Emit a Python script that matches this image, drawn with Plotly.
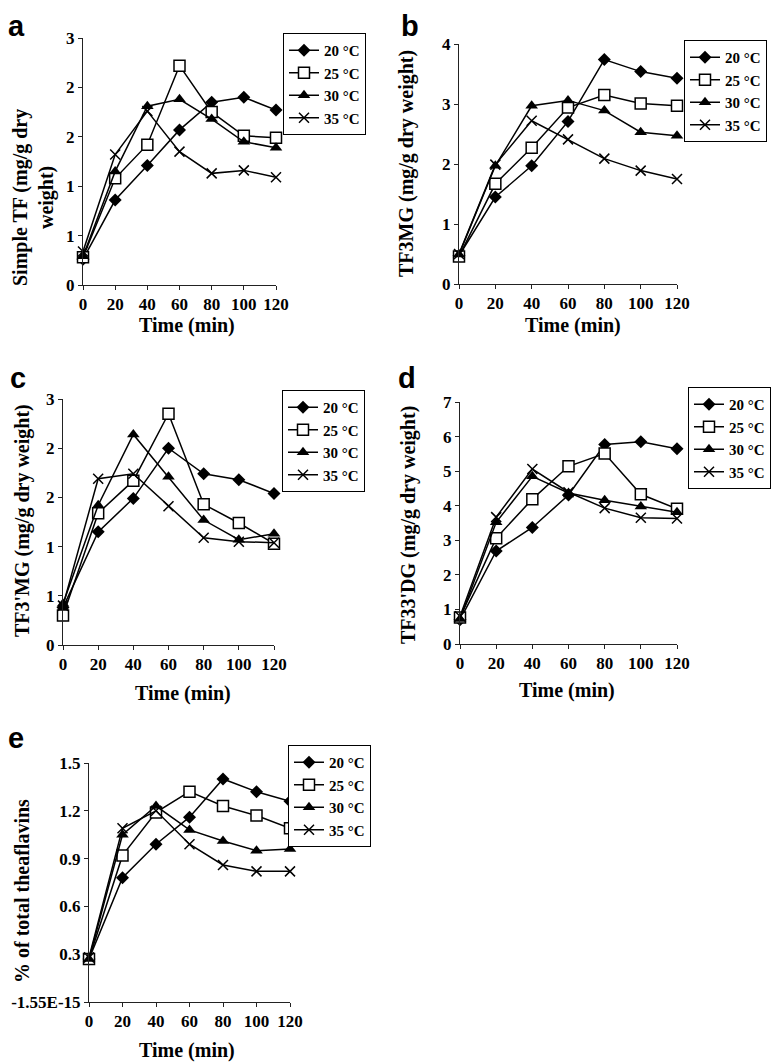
import plotly.graph_objects as go

# the page body has an 8px margin, so the figure is a bit smaller than the window
W = 774
H = 1056
OFF = 8

times = [0, 20, 40, 60, 80, 100, 120]
temps = ["20 °C", "25 °C", "30 °C", "35 °C"]

# a - simple TF
simple_tf_20 = [0.26, 0.86, 1.21, 1.57, 1.85, 1.90, 1.77]
simple_tf_25 = [0.28, 1.08, 1.42, 2.22, 1.75, 1.51, 1.49]
simple_tf_30 = [0.29, 1.15, 1.81, 1.88, 1.68, 1.45, 1.39]
simple_tf_35 = [0.34, 1.32, 1.76, 1.35, 1.13, 1.16, 1.09]

# b - TF3MG
tf3mg_20 = [0.47, 1.45, 1.97, 2.71, 3.74, 3.54, 3.43]
tf3mg_25 = [0.46, 1.67, 2.27, 2.94, 3.15, 3.01, 2.97]
tf3mg_30 = [0.49, 1.97, 2.97, 3.06, 2.89, 2.53, 2.47]
tf3mg_35 = [0.50, 1.99, 2.72, 2.41, 2.09, 1.89, 1.75]

# c - TF3'MG
tf3pmg_20 = [0.38, 1.15, 1.49, 2.00, 1.74, 1.68, 1.54]
tf3pmg_25 = [0.30, 1.34, 1.67, 2.35, 1.43, 1.24, 1.03]
tf3pmg_30 = [0.42, 1.42, 2.14, 1.71, 1.27, 1.07, 1.13]
tf3pmg_35 = [0.40, 1.69, 1.74, 1.41, 1.09, 1.05, 1.04]

# d - TF33'DG
tf33dg_20 = [0.70, 2.69, 3.37, 4.31, 5.77, 5.85, 5.65]
tf33dg_25 = [0.77, 3.06, 4.19, 5.14, 5.51, 4.33, 3.91]
tf33dg_30 = [0.72, 3.52, 4.85, 4.37, 4.16, 3.98, 3.81]
tf33dg_35 = [0.80, 3.67, 5.06, 4.39, 3.93, 3.65, 3.63]

# e - % of total theaflavins
pct_20 = [0.27, 0.78, 0.99, 1.16, 1.40, 1.32, 1.26]
pct_25 = [0.27, 0.92, 1.19, 1.32, 1.23, 1.17, 1.09]
pct_30 = [0.27, 1.05, 1.23, 1.08, 1.01, 0.95, 0.96]
pct_35 = [0.28, 1.09, 1.20, 0.99, 0.86, 0.82, 0.82]

half_ticks = [0, 0.5, 1, 1.5, 2, 2.5]
half_labels = ["0", "1", "1", "2", "2", "3"]
pct_ticks = [0, 0.3, 0.6, 0.9, 1.2, 1.5]
pct_labels = ["-1.55E-15", "0.3", "0.6", "0.9", "1.2", "1.5"]

SERIF = "Liberation Serif, Times New Roman, serif"
SANS = "Liberation Sans, Arial, sans-serif"

markers = [
    dict(symbol="diamond", size=10, color="black"),
    dict(symbol="square", size=11, color="white", line=dict(color="black", width=1.5)),
    dict(symbol="triangle-up", size=11, color="black"),
    dict(symbol="x-thin", size=10, color="black", line=dict(color="black", width=1.5)),
]


# window pixel -> paper fraction
def px_x(p):
    return (p - OFF) / W


def px_y(p):
    return 1 - (p - OFF) / H


# x domain px, y domain px (top, bottom), y range, ticks, legend top-left px
panels = [
    dict(series=[simple_tf_20, simple_tf_25, simple_tf_30, simple_tf_35],
         xd=(83, 276), yd=(38, 285), yr=[0, 2.5], tv=half_ticks, tt=half_labels,
         leg=(283, 33)),
    dict(series=[tf3mg_20, tf3mg_25, tf3mg_30, tf3mg_35],
         xd=(459, 677), yd=(44, 284), yr=[0, 4], tv=[0, 1, 2, 3, 4], tt=None,
         leg=(684, 40)),
    dict(series=[tf3pmg_20, tf3pmg_25, tf3pmg_30, tf3pmg_35],
         xd=(63, 274), yd=(399, 645), yr=[0, 2.5], tv=half_ticks, tt=half_labels,
         leg=(282, 390)),
    dict(series=[tf33dg_20, tf33dg_25, tf33dg_30, tf33dg_35],
         xd=(460, 677), yd=(402, 644), yr=[0, 7], tv=[0, 1, 2, 3, 4, 5, 6, 7], tt=None,
         leg=(688, 387)),
    dict(series=[pct_20, pct_25, pct_30, pct_35],
         xd=(89, 290), yd=(763, 1002), yr=[0, 1.5], tv=pct_ticks, tt=pct_labels,
         leg=(288, 745)),
]

fig = go.Figure()
layout = dict(
    width=W, height=H,
    margin=dict(l=0, r=0, t=0, b=0, autoexpand=False),
    paper_bgcolor="white", plot_bgcolor="white",
    font=dict(family=SERIF, color="black"),
    showlegend=True,
)

for i, p in enumerate(panels):
    n = "" if i == 0 else str(i + 1)
    leg = "legend" if i == 0 else "legend" + n
    for j, s in enumerate(p["series"]):
        fig.add_trace(go.Scatter(
            x=times, y=s, name=temps[j], mode="lines+markers",
            line=dict(color="black", width=1.5), marker=markers[j],
            xaxis="x" + n, yaxis="y" + n, legend=leg, cliponaxis=False,
        ))
    axis_common = dict(showgrid=False, zeroline=False, showline=True,
                       linecolor="#222", linewidth=1, ticks="outside", ticklen=4,
                       tickcolor="#222",
                       tickfont=dict(family=SERIF, size=17, weight="bold", color="black"))
    layout["xaxis" + n] = dict(
        domain=[px_x(p["xd"][0]), px_x(p["xd"][1])], range=[0, 120],
        tickvals=times, anchor="y" + n, **axis_common)
    yax = dict(domain=[px_y(p["yd"][1]), px_y(p["yd"][0])], range=p["yr"],
               tickvals=p["tv"], anchor="x" + n, **axis_common)
    if p["tt"] is not None:
        yax["ticktext"] = p["tt"]
    layout["yaxis" + n] = yax
    layout[leg] = dict(
        x=px_x(p["leg"][0]), y=px_y(p["leg"][1]), xanchor="left", yanchor="top",
        bgcolor="white", bordercolor="black", borderwidth=1,
        font=dict(family=SERIF, size=15, weight="bold", color="black"),
        itemwidth=30, tracegroupgap=0,
    )

fig.update_layout(**layout)

annotations = []
# panel letters
for letter, x, y in [("a", 6, 8), ("b", 399, 8), ("c", 8, 360), ("d", 396, 360), ("e", 6, 720)]:
    annotations.append(dict(text=letter, x=px_x(x), y=px_y(y), xref="paper", yref="paper",
                            xanchor="left", yanchor="top", showarrow=False,
                            font=dict(family=SANS, size=29, weight="bold", color="black")))

# x titles
for x, y in [(187, 325), (573, 325), (183, 693), (567, 690), (187, 1050)]:
    annotations.append(dict(text="Time (min)", x=px_x(x), y=px_y(y), xref="paper", yref="paper",
                            xanchor="center", yanchor="middle", showarrow=False,
                            font=dict(family=SERIF, size=20, weight="bold", color="black")))

# y titles
for text, x, y in [
    ("Simple TF (mg/g dry<br>weight)", 33, 198),
    ("TF3MG (mg/g dry weight)", 407, 164),
    ("TF3'MG (mg/g dry weight)", 22, 521),
    ("TF33'DG (mg/g dry weight)", 409, 525),
    ("% of total theaflavins", 22, 891),
]:
    annotations.append(dict(text=text, x=px_x(x), y=px_y(y), xref="paper", yref="paper",
                            xanchor="center", yanchor="middle", showarrow=False, textangle=-90,
                            font=dict(family=SERIF, size=20, weight="bold", color="black")))

fig.update_layout(annotations=annotations)

fig.write_html("out.html")
